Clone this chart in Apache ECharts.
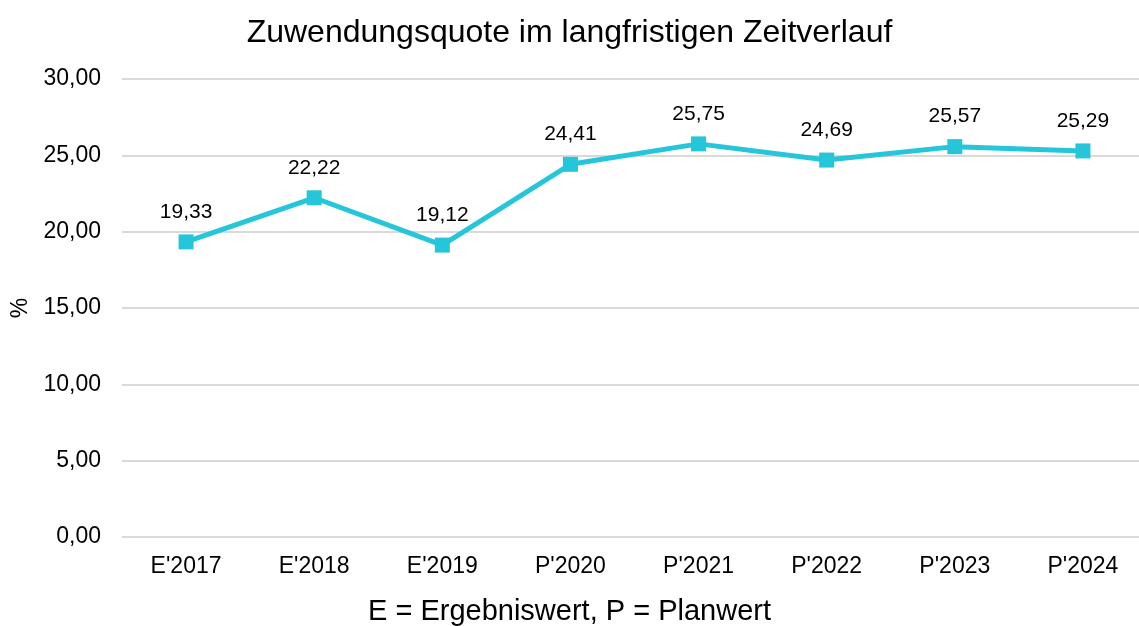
<!DOCTYPE html>
<html>
<head>
<meta charset="utf-8">
<style>
  html, body { margin: 0; padding: 0; background: #fff; }
  #chart { width: 1139px; height: 626px; }
</style>
<script src="https://cdn.jsdelivr.net/npm/echarts@6/dist/echarts.min.js"></script>
</head>
<body>
<div id="chart"></div>
<script>
  // Daten
  const categories = ["E'2017", "E'2018", "E'2019", "P'2020", "P'2021", "P'2022", "P'2023", "P'2024"];
  const quoteValues = [19.33, 22.22, 19.12, 24.41, 25.75, 24.69, 25.57, 25.29];
  const yTicks = { min: 0, max: 30, interval: 5 };

  const fmt = function (v) {
    return Number(v).toFixed(2).replace('.', ',');
  };

  const chart = echarts.init(document.getElementById('chart'));
  chart.setOption({
    animation: false,
    textStyle: { fontFamily: 'Liberation Sans, Arial, sans-serif', color: '#000' },
    title: {
      text: 'Zuwendungsquote im langfristigen Zeitverlauf',
      left: 'center',
      top: 12,
      textStyle: { fontSize: 32, fontWeight: 'normal', color: '#000', fontFamily: 'Liberation Sans, Arial, sans-serif' }
    },
    graphic: [{
      type: 'text',
      left: 'center',
      top: 597,
      style: {
        text: 'E = Ergebniswert, P = Planwert',
        fill: '#000',
        font: '29px Liberation Sans, Arial, sans-serif'
      }
    }],
    grid: { left: 122, right: -8, top: 79, bottom: 89, outerBoundsMode: 'none' },
    xAxis: {
      type: 'category',
      data: categories,
      boundaryGap: true,
      axisLine: { show: false },
      axisTick: { show: false },
      axisLabel: { fontSize: 23, color: '#000', margin: 18 }
    },
    yAxis: {
      type: 'value',
      min: yTicks.min,
      max: yTicks.max,
      interval: yTicks.interval,
      name: '%',
      nameLocation: 'middle',
      nameRotate: 90,
      nameGap: 90,
      nameTextStyle: { fontSize: 23, color: '#000' },
      axisLine: { show: false },
      axisTick: { show: false },
      axisLabel: { fontSize: 23, color: '#000', margin: 21, formatter: fmt },
      splitLine: { lineStyle: { color: '#d9d9d9', width: 2 } }
    },
    series: [{
      type: 'line',
      data: quoteValues,
      symbol: 'rect',
      symbolSize: 15,
      lineStyle: { color: '#26c6da', width: 5 },
      itemStyle: { color: '#26c6da' },
      label: {
        show: true,
        position: 'top',
        distance: 12,
        fontSize: 21,
        color: '#000',
        formatter: function (p) { return fmt(p.value); }
      }
    }]
  });
</script>
</body>
</html>
